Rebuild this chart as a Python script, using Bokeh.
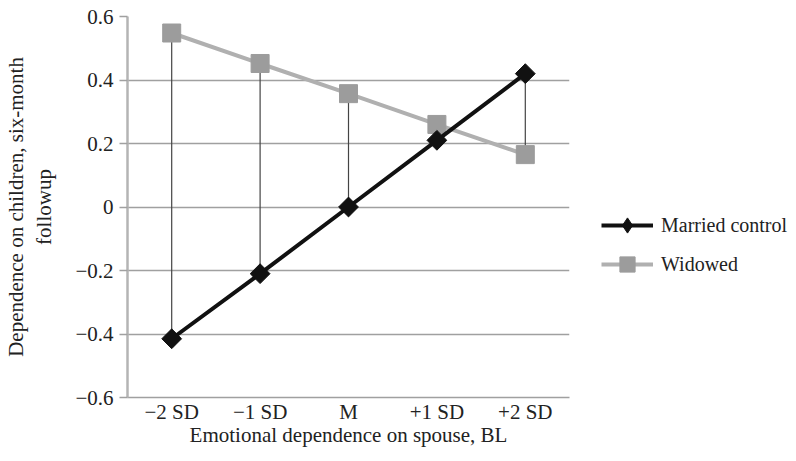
import numpy as np
from bokeh.plotting import figure
from bokeh.models import Legend, LegendItem, FixedTicker, ColumnDataSource
from bokeh.embed import file_html
from bokeh.resources import INLINE

categories = ["\u22122 SD", "\u22121 SD", "M", "+1 SD", "+2 SD"]
married = [-0.415, -0.21, 0.0, 0.21, 0.42]
widowed = [0.548, 0.452, 0.357, 0.26, 0.165]
y_ticks = [-0.6, -0.4, -0.2, 0.0, 0.2, 0.4, 0.6]
y_tick_labels = ["\u22120.6", "\u22120.4", "\u22120.2", "0", "0.2", "0.4", "0.6"]

FONT = "Liberation Serif"

p = figure(x_range=categories, y_range=(-0.6, 0.6), frame_width=442, frame_height=381,
           output_backend="svg", toolbar_location=None,
           min_border_left=118, min_border_right=4, min_border_top=16, min_border_bottom=40)
p.outline_line_color = None
p.background_fill_color = "white"

src = ColumnDataSource(dict(x=categories, m=married, w=widowed))

# drop lines
p.segment(x0="x", y0="m", x1="x", y1="w", source=src, line_color="#444444", line_width=1.2)

wl = p.line("x", "w", source=src, line_color="#b0b0b0", line_width=4)
ws = p.scatter("x", "w", source=src, marker="square", size=18,
               fill_color="#9c9c9c", line_color="#9c9c9c")
ml = p.line("x", "m", source=src, line_color="#111111", line_width=4)
ms = p.scatter("x", "m", source=src, marker="square", angle=np.pi / 4, size=14,
               fill_color="#111111", line_color="#111111")

# legend-only marker styles (hidden renderers on the same data)
ms_leg = p.scatter("x", "m", source=src, marker="diamond", size=16,
                   fill_color="#111111", line_color="#111111", visible=False)
ws_leg = p.scatter("x", "w", source=src, marker="square", size=16,
                   fill_color="#9c9c9c", line_color="#9c9c9c", visible=False)

legend = Legend(items=[LegendItem(label="Married control", renderers=[ml, ms_leg]),
                       LegendItem(label="Widowed", renderers=[wl, ws_leg])],
                location=(32, 114), orientation="vertical",
                glyph_width=52, glyph_height=38, label_height=20, spacing=1,
                label_standoff=8, padding=0, margin=0,
                border_line_color=None, background_fill_alpha=0,
                inactive_fill_alpha=0,
                label_text_font=FONT, label_text_font_size="20px", label_text_color="#222222")
p.add_layout(legend, "right")

# axes
p.yaxis.ticker = FixedTicker(ticks=y_ticks)
p.yaxis.major_label_overrides = {t: l for t, l in zip(y_ticks, y_tick_labels)}
p.yaxis.axis_line_color = "#b4b4b4"
p.yaxis.axis_line_width = 2.5
p.yaxis.major_tick_line_color = "#a0a0a0"
p.yaxis.major_tick_line_width = 1.3
p.yaxis.major_tick_out = 8
p.yaxis.major_tick_in = 0
p.yaxis.minor_tick_line_color = None
p.yaxis.major_label_standoff = 6
p.yaxis.axis_label = "Dependence on children, six-month\nfollowup"
p.yaxis.axis_label_standoff = 16

p.xaxis.axis_line_color = "#a0a0a0"
p.xaxis.axis_line_width = 1.3
p.xaxis.major_tick_line_color = None
p.xaxis.minor_tick_line_color = None
p.xaxis.major_tick_out = 0
p.xaxis.major_tick_in = 0
p.xaxis.major_label_standoff = 2
p.xaxis.axis_label = "Emotional dependence on spouse, BL"
p.xaxis.axis_label_standoff = -4

for ax in (p.xaxis, p.yaxis):
    ax.major_label_text_font = FONT
    ax.major_label_text_font_size = "21px"
    ax.major_label_text_color = "#222222"
    ax.axis_label_text_font = FONT
    ax.axis_label_text_font_size = "21px"
    ax.axis_label_text_font_style = "normal"
    ax.axis_label_text_color = "#222222"

p.xgrid.grid_line_color = None
p.ygrid.grid_line_color = "#a0a0a0"
p.ygrid.grid_line_width = 1.3

open("out.html", "w").write(file_html(p, INLINE))
